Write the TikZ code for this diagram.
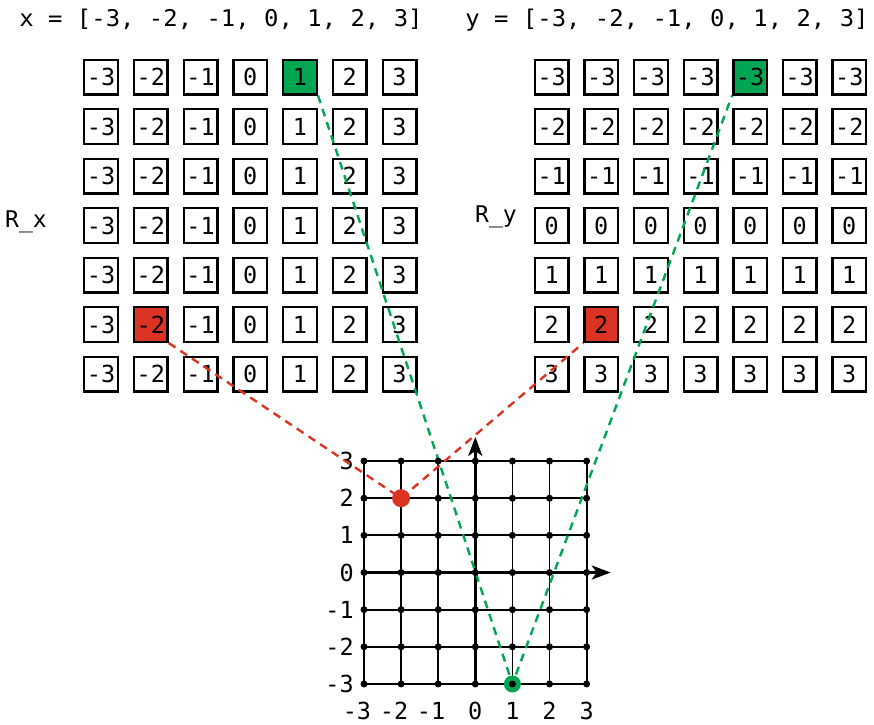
\documentclass[tikz,border=0pt]{standalone}
\usepackage{fontspec}
\setmonofont{DejaVu Sans Mono}
\newfontfamily\headfont[FakeStretch=1.04]{DejaVu Sans Mono}
\usetikzlibrary{arrows.meta}
\definecolor{mygreen}{RGB}{0,166,82}
\definecolor{myred}{RGB}{221,51,34}
\begin{document}
\begin{tikzpicture}[x=1pt,y=-1pt,
  cell/.style={draw,line width=2.4pt,minimum width=33.6pt,minimum height=34.6pt,inner sep=0pt,font=\ttfamily\fontsize{23.5}{23.5}\selectfont},
  head/.style={inner sep=0pt,font=\headfont\fontsize{23}{23}\selectfont},
  lab/.style={inner sep=0pt,font=\ttfamily\fontsize{23}{23}\selectfont},
  tick/.style={inner sep=0pt,font=\ttfamily\fontsize{23.5}{23.5}\selectfont},
  gridline/.style={line width=1.8pt},
  axis/.style={line width=2.8pt,-{Stealth[length=19pt,width=14pt,inset=5pt]}},
  rdash/.style={myred,line width=2.4pt,dash pattern=on 8pt off 6pt},
  gdash/.style={mygreen,line width=2.4pt,dash pattern=on 8pt off 6pt}]
\useasboundingbox (0,0) rectangle (874,724);
% headers
\node[head,anchor=base] (hx) at (221,26) {x = [-3, -2, -1, 0, 1, 2, 3]};
\node[head,anchor=base] (hy) at (667,26) {y = [-3, -2, -1, 0, 1, 2, 3]};
\node[lab] (lx) at (26,222) {R\_x};
\node[lab] (ly) at (496,217) {R\_y};
% cells
\foreach \r in {1,...,7}{
  \foreach \c in {1,...,7}{
    \pgfmathtruncatemacro\vx{\c-4}
    \pgfmathtruncatemacro\vy{\r-4}
    \def\fillc{white}
    \ifnum\r=1 \ifnum\c=5 \def\fillc{mygreen}\fi\fi
    \ifnum\r=6 \ifnum\c=2 \def\fillc{myred}\fi\fi
    \node[cell,fill=\fillc] (rx-\r-\c) at ({101+49.75*(\c-1)},{77+49.5*(\r-1)}) {\vx};
    \node[cell,fill=\fillc] (ry-\r-\c) at ({551.7+49.6*(\c-1)},{77+49.5*(\r-1)}) {\vy};
  }
}
% plot
\begin{scope}[shift={(475.3,572.5)},x=37.1pt,y=37.15pt]
  \foreach \k in {-3,...,3}{
    \draw[gridline] (\k,-3) -- (\k,3);
    \draw[gridline] (-3,\k) -- (3,\k);
  }
  \coordinate (xs) at (-3,0);
  \coordinate (xe) at (3.65,0);
  \coordinate (ys) at (0,-3);
  \coordinate (ye) at (0,3.65);
  \draw[axis] (xs) -- (xe);
  \draw[axis] (ys) -- (ye);
  \foreach \j in {-3,...,3}{
    \node[tick,anchor=east] (yl\j) at (-3.27,\j) {\j};
    \pgfmathtruncatemacro\a{abs(\j)}
    \node[tick] (xl\j) at (\j,-3.73) {\ifnum\j<0 \llap{-}\fi\a};
  }
  \coordinate (rp) at (-2,2);
  \coordinate (gp) at (1,-3);
  \draw[rdash] (rx-6-2.south east) -- (rp) -- (ry-6-2.south west);
  \draw[gdash] (rx-1-5.south east) -- (gp) -- (ry-1-5.south west);
  \node[circle,fill=mygreen,inner sep=0pt,minimum size=17pt] (gdot) at (gp) {};
  \foreach \i in {-3,...,3}{
    \foreach \j in {-3,...,3}{
      \fill (\i,\j) circle (3.5pt);
    }
  }
  \node[circle,fill=myred,inner sep=0pt,minimum size=18pt] (rdot) at (rp) {};
\end{scope}
\end{tikzpicture}
\end{document}
